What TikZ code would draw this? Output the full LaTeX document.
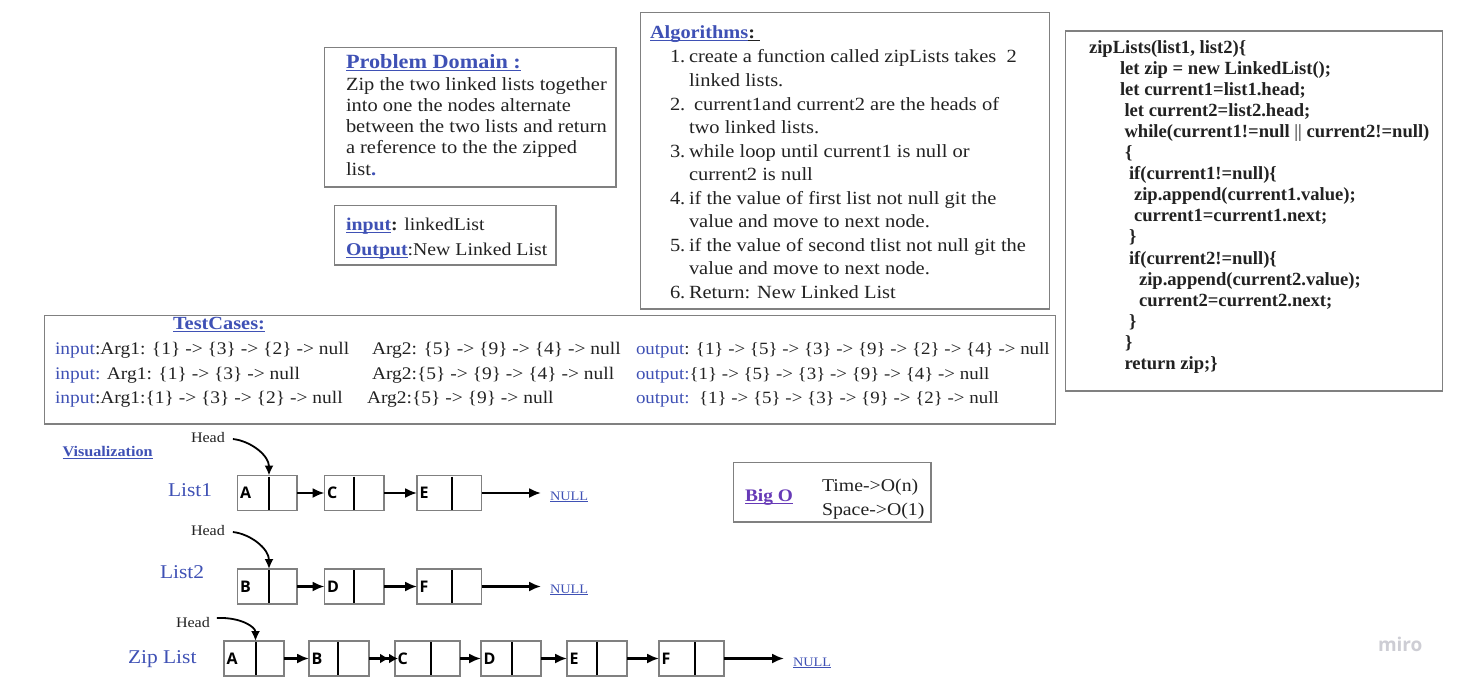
\documentclass[tikz,border=0pt]{standalone}
\usepackage{fontspec}
\setmainfont[FakeStretch=1.1]{Liberation Serif}
\newfontfamily\codefont{Liberation Serif}
\newfontfamily\lfont{Open Sans}
\usetikzlibrary{arrows.meta}
\definecolor{tblue}{RGB}{63,81,181}
\definecolor{tpurple}{RGB}{103,58,183}
\definecolor{textc}{RGB}{34,34,34}
\definecolor{framegray}{RGB}{128,128,128}
\definecolor{mirogray}{RGB}{205,205,212}
\newcommand\fsz[1]{\fontsize{#1}{#1}\selectfont}
\newcommand\myul[1]{\leavevmode\setbox0=\hbox{#1}\rlap{\rule[-0.16em]{\wd0}{0.06em}}\box0}
\newcommand\lnode[6]{%
  \node[lbox,minimum width=#4pt] (#1) at (#2,#3) {};
  \node[letter] (#1T) at ([xshift=2.5pt,yshift=-5.5pt]#1.west) {#6};
  \draw[div] ([xshift=#5pt,yshift=-1pt]#1.north west) -- ([xshift=#5pt,yshift=1pt]#1.south west);
}
\begin{document}
\begin{tikzpicture}[x=1pt,y=-1pt,
  frame/.style={draw=framegray,line width=1.3pt,anchor=north west,inner sep=0pt,outer sep=0pt},
  t/.style={anchor=base west,inner sep=0pt,outer sep=0pt,text=textc},
  lbox/.style={draw=framegray,line width=1.2pt,anchor=north west,inner sep=0pt,outer sep=0pt,minimum height=35pt},
  div/.style={line width=2pt,black},
  letter/.style={anchor=base west,inner sep=0pt,text=black,font=\lfont\bfseries\fsz{16}},
  arr/.style={-{Latex[length=12pt,width=10pt]},line width=2.1pt},
  harr/.style={-{Latex[length=10pt,width=9pt]},line width=1.8pt},
  nullt/.style={t,text=tblue,font=\fsz{13}},
  lbl/.style={t,text=tblue,font=\fsz{19.5}},
  body/.style={t,font=\fsz{18.6}},
  tc/.style={t,font=\fsz{17.7}},
  tco/.style={t,font=\fsz{17.2}},
  code/.style={t,font=\codefont\bfseries\fsz{18.6}}
]
\useasboundingbox (0,0) rectangle (1458,685);
\fill[white] (0,0) rectangle (1458,685);

% ---------- Problem domain ----------
\node[frame,minimum width=291.5pt,minimum height=139.5pt] (pdbox) at (324.5,47.5) {};
\node[t,font=\bfseries\fsz{20.2}] (pdtitle) at (346,68) {\textcolor{tblue}{\myul{Problem Domain :}}};
\node[body] (pd1) at (346,90) {Zip the two linked lists together};
\node[body] (pd2) at (346,111) {into one the nodes alternate};
\node[body] (pd3) at (346,132) {between the two lists and return};
\node[body] (pd4) at (346,153) {a reference to the the zipped};
\node[body] (pd5) at (346,175) {list\textcolor{tblue}{\textbf{.}}};

% ---------- input / output ----------
\node[frame,minimum width=221.5pt,minimum height=59.5pt] (iobox) at (334.5,205.5) {};
\node[t,font=\fsz{18}] (io1) at (346,230) {\textcolor{tblue}{\textbf{\myul{input}}}\textbf{:} linkedList};
\node[t,font=\fsz{18}] (io2) at (346,255) {\textcolor{tblue}{\textbf{\myul{Output}}}:New Linked List};

% ---------- Algorithms ----------
\node[frame,minimum width=409pt,minimum height=296.5pt] (algbox) at (640.5,12.5) {};
\node[t,font=\bfseries\fsz{18.5}] (algt) at (650,38.5) {\textcolor{tblue}{\myul{Algorithms}}\myul{:\ }};
\node[body] (n1) at (670,63) {1.};
\node[body] (a1a) at (689,63) {create a function called zipLists takes\ \ 2};
\node[body] (a1b) at (689,86.5) {linked lists.};
\node[body] (n2) at (670,110) {2.};
\node[body] (a2a) at (694,110) {current1and current2 are the heads of};
\node[body] (a2b) at (689,133.5) {two linked lists.};
\node[body] (n3) at (670,157) {3.};
\node[body] (a3a) at (689,157) {while loop until current1 is null or};
\node[body] (a3b) at (689,180.5) {current2 is null};
\node[body] (n4) at (670,204) {4.};
\node[body] (a4a) at (689,204) {if the value of first list not null git the};
\node[body] (a4b) at (689,227.5) {value and move to next node.};
\node[body] (n5) at (670,251) {5.};
\node[body] (a5a) at (689,251) {if the value of second tlist not null git the};
\node[body] (a5b) at (689,274.5) {value and move to next node.};
\node[body] (n6) at (670,298) {6.};
\node[body] (a6a) at (689,298) {Return: New Linked List};

% ---------- Code ----------
\node[frame,minimum width=377pt,minimum height=360pt] (codebox) at (1065.5,31) {};
\node[code] (c0) at (1089,53) {zipLists(list1, list2)\{};
\node[code] (c1) at (1120,74.1) {let zip = new LinkedList();};
\node[code] (c2) at (1120,95.2) {let current1=list1.head;};
\node[code] (c3) at (1124.5,116.3) {let current2=list2.head;};
\node[code] (c4) at (1124.5,137.4) {while(current1!=null {\mdseries||} current2!=null)};
\node[code] (c5) at (1125,158.5) {\{};
\node[code] (c6) at (1129,179.6) {if(current1!=null)\{};
\node[code] (c7) at (1134,200.7) {zip.append(current1.value);};
\node[code] (c8) at (1134,221.8) {current1=current1.next;};
\node[code] (c9) at (1129,242.9) {\}};
\node[code] (c10) at (1129,264) {if(current2!=null)\{};
\node[code] (c11) at (1139,285.1) {zip.append(current2.value);};
\node[code] (c12) at (1139,306.2) {current2=current2.next;};
\node[code] (c13) at (1129,327.3) {\}};
\node[code] (c14) at (1125,348.4) {\}};
\node[code] (c15) at (1124.5,369.5) {return zip;\}};

% ---------- Test cases ----------
\node[frame,minimum width=1011pt,minimum height=108.5pt] (tcbox) at (44.5,315.5) {};
\node[t,font=\bfseries\fsz{18.5}] (tct) at (173,329) {\textcolor{tblue}{\myul{TestCases:}}};
\node[tc] (r1a) at (55,354) {\textcolor{tblue}{input}:Arg1: \{1\} -> \{3\} -> \{2\} -> null};
\node[tc] (r1b) at (372,354) {Arg2: \{5\} -> \{9\} -> \{4\} -> null};
\node[tco] (r1c) at (636,354) {\textcolor{tblue}{output}: \{1\} -> \{5\} -> \{3\} -> \{9\} -> \{2\} -> \{4\} -> null};
\node[tc] (r2a) at (55,379) {\textcolor{tblue}{input:} Arg1: \{1\} -> \{3\} -> null};
\node[tc] (r2b) at (372,379) {Arg2:\{5\} -> \{9\} -> \{4\} -> null};
\node[tco] (r2c) at (636,379) {\textcolor{tblue}{output:}\{1\} -> \{5\} -> \{3\} -> \{9\} -> \{4\} -> null};
\node[tc] (r3a) at (55,403) {\textcolor{tblue}{input}:Arg1:\{1\} -> \{3\} -> \{2\} -> null};
\node[tc] (r3b) at (367,403) {Arg2:\{5\} -> \{9\} -> null};
\node[tco] (r3c) at (636,403) {\textcolor{tblue}{output:}\ \ \{1\} -> \{5\} -> \{3\} -> \{9\} -> \{2\} -> null};

% ---------- Big O ----------
\node[frame,minimum width=197.5pt,minimum height=59.5pt] (bigobox) at (733.5,462.5) {};
\node[t,font=\bfseries\fsz{17.6}] (bigo) at (745,501.5) {\textcolor{tpurple}{\myul{Big O}}};
\node[t,font=\fsz{18}] (time) at (822,491) {Time->O(n)};
\node[t,font=\fsz{18}] (space) at (822,515.5) {Space->O(1)};

% ---------- Visualization ----------
\node[t,font=\bfseries\fsz{14.7}] (vis) at (62.5,456.5) {\textcolor{tblue}{\myul{Visualization}}};

% List1
\node[t,font=\fsz{14.6}] (head1) at (191,442) {Head};
\node[lbl] (list1) at (168,496) {List1};
\lnode{l1a}{237.5}{475.5}{59.5}{31.5}{A}
\lnode{l1c}{324.5}{475.5}{59.5}{29}{C}
\lnode{l1e}{417}{475.5}{64.5}{35}{E}
\node[nullt] (null1) at (550,500) {\myul{NULL}};
\coordinate (h1end) at ([xshift=31.5pt]l1a.north west);
\draw[harr] ([xshift=8pt,yshift=-2pt]head1.east) .. controls +(18,2) and +(0,-20) .. (h1end);
\draw[arr] (l1a.east) -- (l1c.west);
\draw[arr] (l1c.east) -- (l1e.west);
\draw[arr,shorten >=9pt] (l1e.east) -- (l1e.east -| null1.west);

% List2
\node[t,font=\fsz{14.6}] (head2) at (191,535) {Head};
\node[lbl] (list2) at (160,578) {List2};
\lnode{l2b}{237.5}{569}{59.5}{31.5}{B}
\lnode{l2d}{324.5}{569}{59.5}{29}{D}
\lnode{l2f}{417}{569}{64.5}{35}{F}
\node[nullt] (null2) at (550,593) {\myul{NULL}};
\coordinate (h2end) at ([xshift=31.5pt]l2b.north west);
\draw[harr] ([xshift=8pt,yshift=-2pt]head2.east) .. controls +(18,2) and +(0,-20) .. (h2end);
\draw[arr] (l2b.east) -- (l2d.west);
\draw[arr] (l2d.east) -- (l2f.west);
\draw[arr,shorten >=9pt] (l2f.east) -- (l2f.east -| null2.west);

% Zip list
\node[t,font=\fsz{14.6}] (head3) at (176,627) {Head};
\node[lbl] (ziplbl) at (128,663) {Zip List};
\lnode{za}{224}{641}{60}{31.5}{A}
\lnode{zb}{309}{641}{60}{29}{B}
\lnode{zc}{395}{641}{65}{35.5}{C}
\lnode{zd}{481}{641}{60}{31}{D}
\lnode{ze}{567}{641}{60}{29.5}{E}
\lnode{zf}{659}{641}{65}{36}{F}
\node[nullt] (null3) at (793,666) {\myul{NULL}};
\coordinate (h3end) at ([xshift=31.5pt]za.north west);
\draw[harr] ([xshift=7pt,yshift=4pt]head3.east) .. controls +(24,-1) and +(0,-14) .. (h3end);
\draw[arr] (za.east) -- (zb.west);
\draw[-{Latex[length=9pt,width=10pt]Latex[length=9pt,width=10pt]},line width=2.1pt,shorten >=-3pt] (zb.east) -- (zc.west);
\draw[arr] (zc.east) -- (zd.west);
\draw[arr] (zd.east) -- (ze.west);
\draw[arr] (ze.east) -- (zf.west);
\draw[arr,shorten >=9pt] (zf.east) -- (zf.east -| null3.west);

% watermark
\node[t,text=mirogray,font=\lfont\bfseries\fsz{19}] (miro) at (1378,651) {miro};
\end{tikzpicture}
\end{document}
